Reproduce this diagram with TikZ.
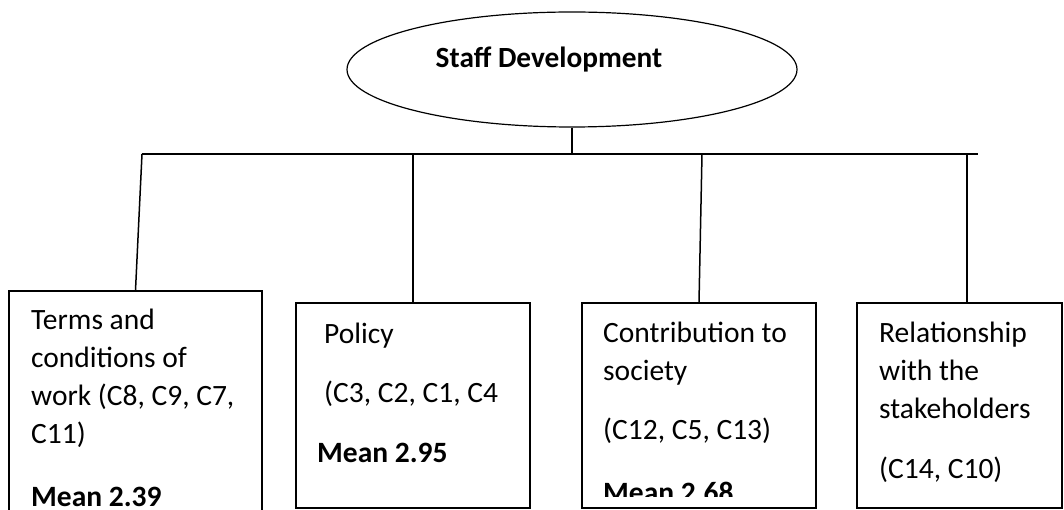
\documentclass[tikz,border=0pt]{standalone}
\usepackage{fontspec}
\setmainfont{Carlito}
\usetikzlibrary{positioning,shapes.geometric}

\begin{document}
\begin{tikzpicture}[x=1pt, y=-1pt,
  rootnode/.style={draw, ellipse, line width=1.2pt, minimum width=450pt,
               minimum height=115pt, inner sep=0pt},
  title/.style={inner sep=0pt, anchor=base, font=\fontsize{29.3}{35}\selectfont\bfseries},
  catbox/.style={draw, rectangle, line width=1.6pt, inner sep=0pt,
              minimum height=205pt},
  % anchored on the baseline of the last line
  cattext/.style={anchor=base west, align=left, inner sep=0pt,
              font=\fontsize{29.5}{38}\selectfont},
  wire/.style={line width=1.5pt},
]
\useasboundingbox (0,0) rectangle (1064,510);
\clip (0,0) rectangle (1064,510);

% Top: the root ellipse
\node[rootnode] (root) at (572,69.5) {};
\node[title] (rootlabel) at (549,68) {Staff Development};

% Bar and the four drop points
\coordinate (barwest) at (142,154);
\coordinate (bareast) at (978,154);
\coordinate (hub) at (root.south |- barwest);
\coordinate (d1) at (142,154);
\coordinate (d2) at (413,154);
\coordinate (d3) at (702,154);
\coordinate (d4) at (967,154);

% Row of category boxes (first one runs off the bottom)
\node[catbox, minimum width=253pt, minimum height=239pt] (terms) at (135.5,410.5) {};
\node[catbox, minimum width=234pt] (policy) at (413,405.5) {};
\node[catbox, minimum width=234pt] (society) at (699,405.5) {};
\node[catbox, minimum width=205pt] (stake) at (959.5,405.5) {};

% Box texts
\node[cattext] (termstext) at (31,506)
  {Terms and\\conditions of\\work (C8, C9, C7,\\C11)\\[25pt]\textbf{Mean 2.39}};
\node[cattext] (policytext) at (317,462)
  {\hspace*{7pt}Policy\\[21pt]\hspace*{7pt}(C3, C2, C1, C4\\[22pt]\textbf{Mean 2.95}};
\begin{scope}
  \clip (society.north west) rectangle (816,496);
  \node[cattext] (societytext) at (603,502)
    {Contribution to\\society\\[21pt](C12, C5, C13)\\[25pt]\textbf{Mean 2.68}};
\end{scope}
\node[cattext] (staketext) at (879,478)
  {Relationship\\with the\\stakeholders\\[22pt](C14, C10)};

% Connectors
\draw[wire] (root.south) -- (hub);
\draw[wire] (barwest) -- (bareast);
\draw[wire] (d1) -- (terms.north);
\draw[wire] (d2) -- (policy.north);
\draw[wire] (d3) -- (society.north);
\draw[wire] (d4) -- (d4 |- stake.north);

\end{tikzpicture}
\end{document}
